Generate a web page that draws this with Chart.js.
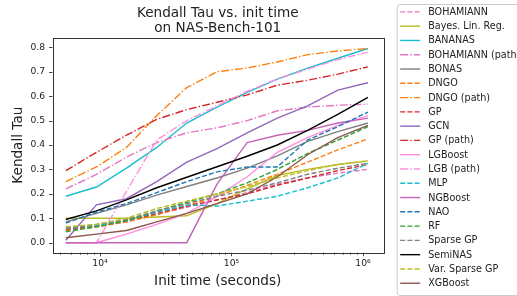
<!DOCTYPE html>
<html>
<head>
<meta charset="utf-8">
<title>Kendall Tau vs. init time</title>
<script src="https://cdn.jsdelivr.net/npm/chart.js@4.4.1/dist/chart.umd.min.js"></script>
<style>
    html, body { margin: 0; padding: 0; background: #ffffff; }
    #wrap { width: 517px; height: 296px; position: relative; }
</style>
</head>
<body>
<div id="wrap"><canvas id="tauChart"></canvas></div>
<script>
// Init time (seconds) for each measured point
const initTimes = [5500, 9400, 15900, 27000, 45700, 77600, 131600, 223000, 379000, 643000, 1090000];

// Kendall tau per predictor
const bohamiann     = [0.05, 0.065, 0.085, 0.115, 0.145, 0.175, 0.205, 0.24, 0.265, 0.285, 0.30];
const bayesLinReg   = [0.10, 0.10, 0.10, 0.105, 0.11, 0.16, 0.22, 0.275, 0.30, 0.32, 0.335];
const bananas       = [0.19, 0.228, 0.305, 0.39, 0.49, 0.555, 0.615, 0.67, 0.715, 0.755, 0.795];
const bohamiannPath = [0.22, 0.28, 0.35, 0.41, 0.45, 0.47, 0.50, 0.54, 0.555, 0.563, 0.567];
const bonas         = [0.085, 0.12, 0.155, 0.195, 0.23, 0.265, 0.305, 0.355, 0.415, 0.455, 0.49];
const dngo          = [0.05, 0.065, 0.085, 0.115, 0.15, 0.19, 0.235, 0.28, 0.33, 0.38, 0.425];
const dngoPath      = [0.25, 0.31, 0.39, 0.52, 0.635, 0.70, 0.715, 0.74, 0.77, 0.785, 0.795];
const gp            = [0.055, 0.07, 0.09, 0.12, 0.15, 0.175, 0.20, 0.235, 0.265, 0.295, 0.32];
const gcn           = [0.01, 0.155, 0.18, 0.25, 0.33, 0.385, 0.45, 0.51, 0.56, 0.625, 0.655];
const gpPath        = [0.295, 0.37, 0.44, 0.505, 0.545, 0.575, 0.605, 0.645, 0.665, 0.69, 0.72];
const lgboost       = [0, 0, 0.035, 0.075, 0.12, 0.19, 0.27, 0.37, 0.43, 0.48, 0.52];
const lgbPath       = [0, 0, 0.21, 0.42, 0.50, 0.56, 0.62, 0.67, 0.71, 0.75, 0.78];
const mlp           = [0.06, 0.07, 0.09, 0.125, 0.155, 0.15, 0.17, 0.19, 0.225, 0.265, 0.325];
const ngboost       = [0, 0, 0, 0, 0, 0.24, 0.41, 0.44, 0.46, 0.49, 0.51];
const nao           = [0.08, 0.125, 0.16, 0.205, 0.25, 0.29, 0.31, 0.31, 0.42, 0.475, 0.535];
const rf            = [0.045, 0.065, 0.09, 0.13, 0.165, 0.20, 0.245, 0.30, 0.365, 0.42, 0.475];
const sparseGp      = [0.06, 0.075, 0.095, 0.13, 0.16, 0.19, 0.215, 0.245, 0.28, 0.305, 0.325];
const semiNas       = [0.095, 0.13, 0.175, 0.225, 0.268, 0.311, 0.354, 0.40, 0.46, 0.525, 0.595];
const varSparseGp   = [0.065, 0.075, 0.10, 0.14, 0.17, 0.20, 0.23, 0.265, 0.295, 0.32, 0.335];
const xgboost       = [0.02, 0.035, 0.05, 0.085, 0.12, 0.16, 0.20, 0.27, 0.36, 0.43, 0.48];

// Axis ticks
const yTicks = [0.0, 0.1, 0.2, 0.3, 0.4, 0.5, 0.6, 0.7, 0.8];
const xMajorTicks = [1e4, 1e5, 1e6];
const xMajorLabels = ['10\u2074', '10\u2075', '10\u2076'];

const titleLines = ['Kendall Tau vs. init time', 'on NAS-Bench-101'];

const DASHED = [5, 2.2];
const DASHDOT = [8, 2.2, 1.4, 2.2];

// label, values, colour, dash
const series = [
    ['BOHAMIANN', bohamiann, '#e377c2', DASHED],
    ['Bayes. Lin. Reg.', bayesLinReg, '#bcbd22', []],
    ['BANANAS', bananas, '#17becf', []],
    ['BOHAMIANN (path)', bohamiannPath, '#e377c2', DASHDOT],
    ['BONAS', bonas, '#7f7f7f', []],
    ['DNGO', dngo, '#ff7f0e', DASHED],
    ['DNGO (path)', dngoPath, '#ff7f0e', DASHDOT],
    ['GP', gp, '#d62728', DASHED],
    ['GCN', gcn, '#9467bd', []],
    ['GP (path)', gpPath, '#d62728', DASHDOT],
    ['LGBoost', lgboost, '#ff8fdc', []],
    ['LGB (path)', lgbPath, '#ff8fdc', DASHDOT],
    ['MLP', mlp, '#17becf', DASHED],
    ['NGBoost', ngboost, '#c464b8', []],
    ['NAO', nao, '#1f77b4', DASHED],
    ['RF', rf, '#2ca02c', DASHED],
    ['Sparse GP', sparseGp, '#7f7f7f', DASHED],
    ['SemiNAS', semiNas, '#000000', []],
    ['Var. Sparse GP', varSparseGp, '#bcbd22', DASHED],
    ['XGBoost', xgboost, '#8c564b', []]
];

const FONT = 'DejaVu Sans';

// Build the datasets; later series are drawn on top, like matplotlib
const datasets = series.map((s, i) => ({
    label: s[0],
    data: initTimes.map((t, j) => ({ x: t, y: s[1][j] })),
    borderColor: s[2],
    backgroundColor: s[2],
    borderDash: s[3],
    borderWidth: 1.4,
    pointRadius: 0,
    tension: 0,
    fill: false,
    order: series.length - i
}));

// Minor + major ticks for the log axis
function buildLogTicks(min, max) {
    const ticks = [];
    for (let e = Math.floor(Math.log10(min)); e <= Math.ceil(Math.log10(max)); e++) {
        for (let m = 1; m <= 9; m++) {
            const v = m * Math.pow(10, e);
            if (v >= min && v <= max) ticks.push({ value: v, major: m === 1 });
        }
    }
    return ticks;
}

// Frame, tick marks, title and legend
const decorPlugin = {
    id: 'decor',
    afterDraw(chart) {
        const ctx = chart.ctx;
        const area = chart.chartArea;
        const xs = chart.scales.x;
        const ys = chart.scales.y;
        ctx.save();

        // axes frame
        ctx.strokeStyle = '#333333';
        ctx.lineWidth = 1;
        ctx.setLineDash([]);
        ctx.strokeRect(Math.round(area.left) + 0.5, Math.round(area.top) + 0.5,
            Math.round(area.right - area.left), Math.round(area.bottom - area.top));

        // tick marks
        ctx.lineWidth = 0.9;
        xs.ticks.forEach(t => {
            const px = Math.round(xs.getPixelForValue(t.value)) + 0.5;
            const len = xMajorTicks.includes(t.value) ? 3.5 : 2;
            ctx.beginPath();
            ctx.moveTo(px, area.bottom);
            ctx.lineTo(px, area.bottom + len);
            ctx.stroke();
        });
        ys.ticks.forEach(t => {
            const py = Math.round(ys.getPixelForValue(t.value)) + 0.5;
            ctx.beginPath();
            ctx.moveTo(area.left - 3.5, py);
            ctx.lineTo(area.left, py);
            ctx.stroke();
        });

        // title
        ctx.fillStyle = '#222222';
        ctx.font = '13.6px "' + FONT + '"';
        ctx.textAlign = 'center';
        ctx.textBaseline = 'alphabetic';
        const cx = (area.left + area.right) / 2;
        titleLines.forEach((line, i) => ctx.fillText(line, cx, 17.3 + i * 15));

        // legend box
        const lx = area.right + 13.7;
        const top = 4;
        const bottom = 295;
        ctx.beginPath();
        ctx.roundRect(lx + 0.5, top + 0.5, 200, bottom - top, 3);
        ctx.fillStyle = '#ffffff';
        ctx.fill();
        ctx.strokeStyle = '#cccccc';
        ctx.lineWidth = 1;
        ctx.stroke();

        ctx.font = '9.6px "' + FONT + '"';
        ctx.textAlign = 'left';
        ctx.textBaseline = 'middle';
        chart.data.datasets.forEach((ds, i) => {
            const y = 11.9 + i * 14.28;
            ctx.strokeStyle = ds.borderColor;
            ctx.lineWidth = 1.4;
            ctx.setLineDash(ds.borderDash);
            ctx.beginPath();
            ctx.moveTo(lx + 3.5, y);
            ctx.lineTo(lx + 23.5, y);
            ctx.stroke();
            ctx.setLineDash([]);
            ctx.fillStyle = '#222222';
            ctx.fillText(ds.label, lx + 31.5, y + 0.5);
        });
        ctx.restore();
    }
};

const X_MIN = 4356;
const X_MAX = 1419000;

const chartInstance = new Chart(document.getElementById('tauChart'), {
    type: 'line',
    data: { datasets: datasets },
    options: {
        responsive: true,
        maintainAspectRatio: false,
        animation: false,
        layout: { padding: { left: 0, top: 37.7, right: 134, bottom: 0 } },
        plugins: {
            legend: { display: false },
            title: { display: false },
            tooltip: { enabled: false }
        },
        scales: {
            x: {
                type: 'logarithmic',
                min: X_MIN,
                max: X_MAX,
                afterBuildTicks: scale => { scale.ticks = buildLogTicks(X_MIN, X_MAX); },
                afterFit: scale => { scale.height = 43.3; },
                grid: { display: false, drawTicks: true, tickLength: 3.5 },
                border: { display: false },
                ticks: {
                    autoSkip: false,
                    maxRotation: 0,
                    padding: 2,
                    color: '#222222',
                    font: { family: FONT, size: 9.2 },
                    callback: value => {
                        const k = xMajorTicks.indexOf(value);
                        return k >= 0 ? xMajorLabels[k] : '';
                    }
                },
                title: {
                    display: true,
                    text: 'Init time (seconds)',
                    color: '#222222',
                    font: { family: FONT, size: 13.6 },
                    padding: { top: 0, bottom: 6.5 }
                }
            },
            y: {
                min: -0.041,
                max: 0.8393,
                afterBuildTicks: scale => { scale.ticks = yTicks.map(v => ({ value: v })); },
                afterFit: scale => { scale.width = 52.5; },
                grid: { display: false, drawTicks: true, tickLength: 3.5 },
                border: { display: false },
                ticks: {
                    padding: 4,
                    color: '#222222',
                    font: { family: FONT, size: 9.2 },
                    callback: value => value.toFixed(1)
                },
                title: {
                    display: true,
                    text: 'Kendall Tau',
                    color: '#222222',
                    font: { family: FONT, size: 13.6 },
                    padding: { top: 10, bottom: 0 }
                }
            }
        }
    },
    plugins: [decorPlugin]
});
</script>
</body>
</html>
